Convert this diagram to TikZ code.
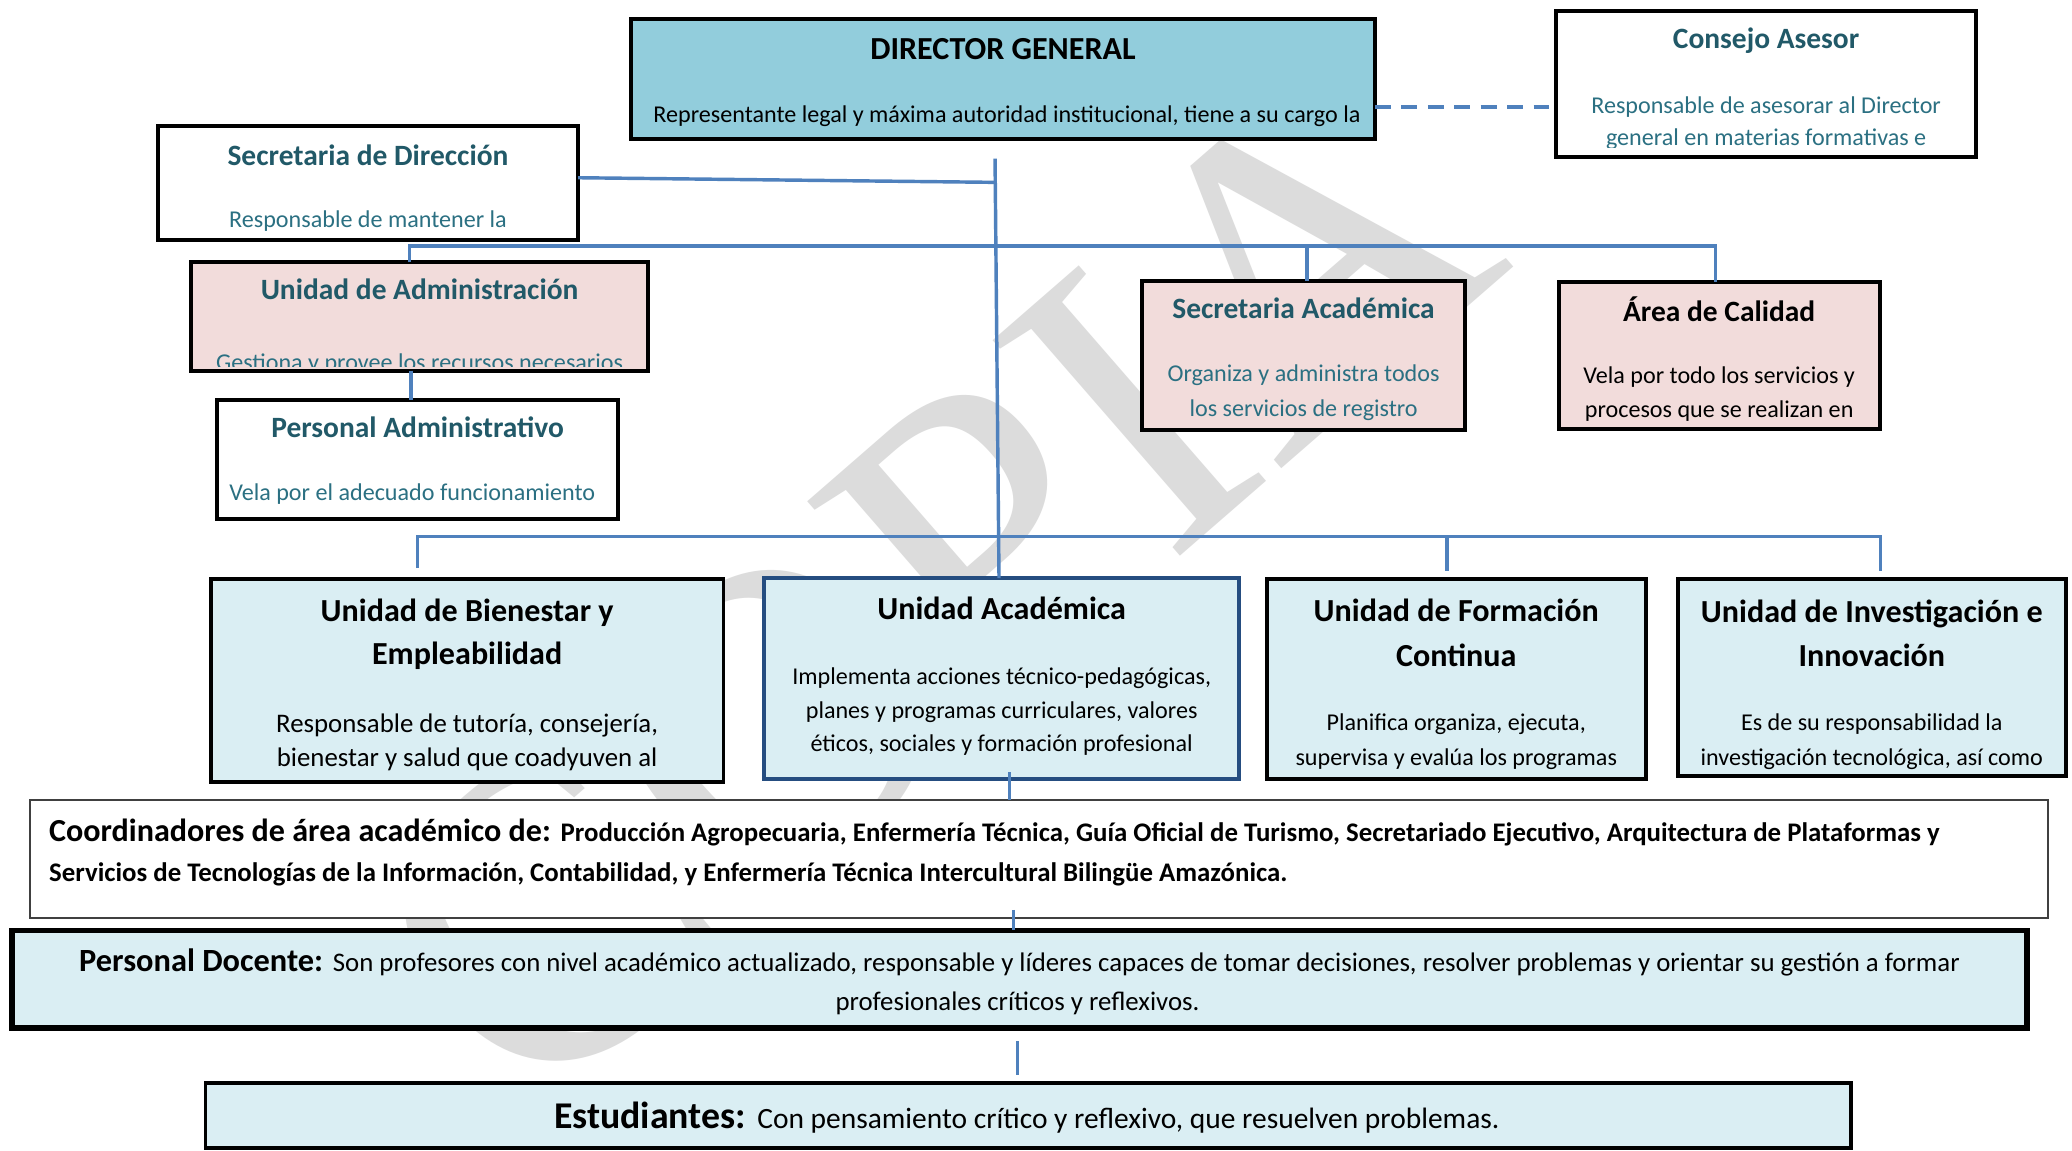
\documentclass[tikz,border=0pt]{standalone}
\usepackage{fontspec}
\setmainfont{Carlito}
\newfontfamily\wmfont{Liberation Serif}
\usetikzlibrary{fit,calc}
\definecolor{dgfill}{HTML}{92CDDC}
\definecolor{pinkfill}{HTML}{F2DCDB}
\definecolor{lbfill}{HTML}{DAEEF3}
\definecolor{tealT}{HTML}{215968}
\definecolor{tealB}{HTML}{2B7082}
\definecolor{conncol}{HTML}{4F81BD}
\definecolor{uacborder}{HTML}{254D80}
\definecolor{coordborder}{HTML}{404040}
\definecolor{wmgray}{HTML}{DCDCDC}
\newcommand{\fsz}[1]{\fontsize{#1}{#1}\selectfont}
\begin{document}
\begin{tikzpicture}[x=1pt,y=-1pt,
  box/.style={draw=black, line width=3pt, inner sep=0pt, outer sep=0pt},
  conn/.style={draw=conncol, line width=2.6pt},
  ttl/.style={anchor=base, inner sep=0pt, font=\fsz{22.3}\bfseries},
  txt/.style={anchor=base, inner sep=0pt, font=\fsz{18.25}},
  bttl/.style={anchor=base, inner sep=0pt, font=\fsz{24.3}\bfseries},
  btxt/.style={anchor=base, inner sep=0pt, font=\fsz{20.3}}]
\useasboundingbox (0,0) rectangle (1568,870.27);
\fill[white] (0,0) rectangle (1568,870.27);

% ---------- watermark ----------
\begin{scope}
\clip (0,0) rectangle (1568,870.27);
\node[rotate=41, anchor=base west, inner sep=0pt, text=wmgray, font=\wmfont\fsz{330}] (wm) at (400,850) {COPIA};
\end{scope}

% ---------- named points for connectors ----------
\coordinate (vtop) at (753,120);
\coordinate (j1) at (753,138);
\coordinate (b1a) at (310,186);
\coordinate (b1b) at (1298,186);
\coordinate (b1c) at (989,186);
\coordinate (b0) at (311,0);
\coordinate (b2a) at (316,406);
\coordinate (b2b) at (1423,406);
\coordinate (b2c) at (1095,406);
\coordinate (c1) at (764,0);
\coordinate (c2) at (767,0);
\coordinate (c3) at (770,0);
\coordinate (dl) at (0,81);

% ---------- boxes ----------
\node[box, fill=dgfill, fit={(477.5,14.5) (1040.5,105.5)}] (dg) {};
\node[box, fill=white, fit={(1177.5,8.5) (1495.5,118.5)}] (ca) {};
\node[box, fill=white, fit={(119.5,95.5) (437.5,181.5)}] (sd) {};
\node[box, fill=pinkfill, fit={(144.5,198.5) (490.5,280.5)}] (uadm) {};
\node[box, fill=white, fit={(164.5,302.5) (467.5,392.5)}] (padm) {};
\node[box, fill=pinkfill, fit={(864.5,212.5) (1108.5,325.5)}] (sa) {};
\node[box, fill=pinkfill, fit={(1179.5,213.5) (1422.5,324.5)}] (cal) {};
\node[box, fill=lbfill, fit={(159.5,438.5) (547.5,591.5)}] (bien) {};
\node[box, draw=uacborder, fill=lbfill, fit={(578.5,437.5) (937.5,589.5)}] (uac) {};
\node[box, fill=lbfill, fit={(958.5,438.5) (1245.5,589.5)}] (form) {};
\node[box, fill=lbfill, fit={(1269.5,438.5) (1563.5,587.5)}] (inv) {};
\node[box, draw=coordborder, line width=1.4pt, fill=white, fit={(22.5,605.5) (1549.5,694.5)}] (coord) {};
\node[box, line width=4pt, fill=lbfill, fit={(9,704) (1534,778)}] (doc) {};
\node[box, fill=lbfill, fit={(155.5,819.5) (1400.5,868.5)}] (est) {};

% ---------- connector lines ----------
\draw[conn] (vtop) -- ($(vtop |- uac.north)+(3,0)$);
\draw[conn] ($(sd.east)+(0,-4)$) -- (j1);
\draw[conn] (b1a |- uadm.north) -- (b1a) -- (b1b) -- (b1b |- cal.north);
\draw[conn] (b1c) -- (b1c |- sa.north);
\draw[conn] (b0 |- uadm.south) -- (b0 |- padm.north);
\draw[conn] ($(b2a)+(0,24)$) -- (b2a) -- (b2b) -- ($(b2b)+(0,26)$);
\draw[conn] (b2c) -- ($(b2c)+(0,26)$);
\draw[conn] ($(c1 |- uac.south)+(0,-5)$) -- (c1 |- coord.north);
\draw[conn] ($(c2 |- coord.south)+(0,-6)$) -- (c2 |- doc.north);
\draw[conn, line width=3pt] ($(c3 |- doc.south)+(0,10)$) -- ($(c3 |- est.north)+(0,-6)$);
\draw[conn, line width=3.2pt, dash pattern=on 12pt off 8pt] (dg.east |- dl) -- (ca.west |- dl);

% ---------- texts ----------
\node[ttl, font=\fsz{24.3}\bfseries] (dgT) at (759,45) {DIRECTOR GENERAL};
\node[txt] (dgB) at (762,93) {Representante legal y máxima autoridad institucional, tiene a su cargo la};

\node[ttl, text=tealT] (caT) at (1336.5,37) {Consejo Asesor};
\begin{scope}
\clip (1179,10) rectangle (1494,111.5);
\node[txt, text=tealB] (caB1) at (1336.5,86) {Responsable de asesorar al Director};
\node[txt, text=tealB] (caB2) at (1336.5,110) {general en materias formativas e};
\end{scope}

\node[ttl, text=tealT] (sdT) at (278.5,125) {Secretaria de Dirección};
\node[txt, text=tealB] (sdB) at (278.5,172) {Responsable de mantener la};

\node[ttl, text=tealT] (uadmT) at (317.5,227) {Unidad de Administración};
\begin{scope}
\clip (146,200) rectangle (489,277.5);
\node[txt, text=tealB] (uadmB) at (317.5,280.5) {Gestiona y provee los recursos necesarios};
\end{scope}

\node[ttl, text=tealT] (padmT) at (316,331) {Personal Administrativo};
\node[txt, text=tealB] (padmB) at (312,379) {Vela por el adecuado funcionamiento};

\node[ttl, text=tealT] (saT) at (986.5,241) {Secretaria Académica};
\node[txt, text=tealB] (saB1) at (986.5,289) {Organiza y administra todos};
\node[txt, text=tealB] (saB2) at (986.5,315) {los servicios de registro};

\node[ttl] (calT) at (1301,243) {Área de Calidad};
\node[txt] (calB1) at (1301,290) {Vela por todo los servicios y};
\node[txt] (calB2) at (1301,316) {procesos que se realizan en};

\node[bttl] (bienT1) at (353.5,470) {Unidad de Bienestar y};
\node[bttl] (bienT2) at (353.5,503) {Empleabilidad};
\node[btxt] (bienB1) at (353.5,554) {Responsable de tutoría, consejería,};
\node[btxt] (bienB2) at (353.5,580) {bienestar y salud que coadyuven al};

\node[bttl] (uacT) at (758,469) {Unidad Académica};
\node[txt] (uacB1) at (758,518) {Implementa acciones técnico-pedagógicas,};
\node[txt] (uacB2) at (758,544) {planes y programas curriculares, valores};
\node[txt] (uacB3) at (758,569) {éticos, sociales y formación profesional};

\node[bttl] (formT1) at (1102,470) {Unidad de Formación};
\node[bttl] (formT2) at (1102,504) {Continua};
\node[txt] (formB1) at (1102,553) {Planifica organiza, ejecuta,};
\node[txt] (formB2) at (1102,579) {supervisa y evalúa los programas};

\node[bttl] (invT1) at (1416.5,471) {Unidad de Investigación e};
\node[bttl] (invT2) at (1416.5,504) {Innovación};
\node[txt] (invB1) at (1416.5,553) {Es de su responsabilidad la};
\node[txt] (invB2) at (1416.5,579) {investigación tecnológica, así como};

\node[anchor=base west, inner sep=0pt] (coordT1) at (37,637) {{\fsz{24.3}\bfseries Coordinadores de área académico de: }{\fsz{20.3}\bfseries Producción Agropecuaria, Enfermería Técnica, Guía Oficial de Turismo, Secretariado Ejecutivo, Arquitectura de Plataformas y}};
\node[anchor=base west, inner sep=0pt, font=\fsz{20.3}\bfseries] (coordT2) at (37,667) {Servicios de Tecnologías de la Información, Contabilidad, y Enfermería Técnica Intercultural Bilingüe Amazónica.};

\node[anchor=base, inner sep=0pt] (docT1) at (771.5,735) {{\fsz{24.5}\bfseries Personal Docente: }{\fsz{20.3}Son profesores con nivel académico actualizado, responsable y líderes capaces de tomar decisiones, resolver problemas y orientar su gestión a formar}};
\node[anchor=base, inner sep=0pt, font=\fsz{20.3}] (docT2) at (770,765) {profesionales críticos y reflexivos.};

\node[anchor=base, inner sep=0pt] (estT) at (777,854) {{\fsz{28.6}\bfseries Estudiantes: }{\fsz{22.3}Con pensamiento crítico y reflexivo, que resuelven problemas.}};
\end{tikzpicture}
\end{document}
